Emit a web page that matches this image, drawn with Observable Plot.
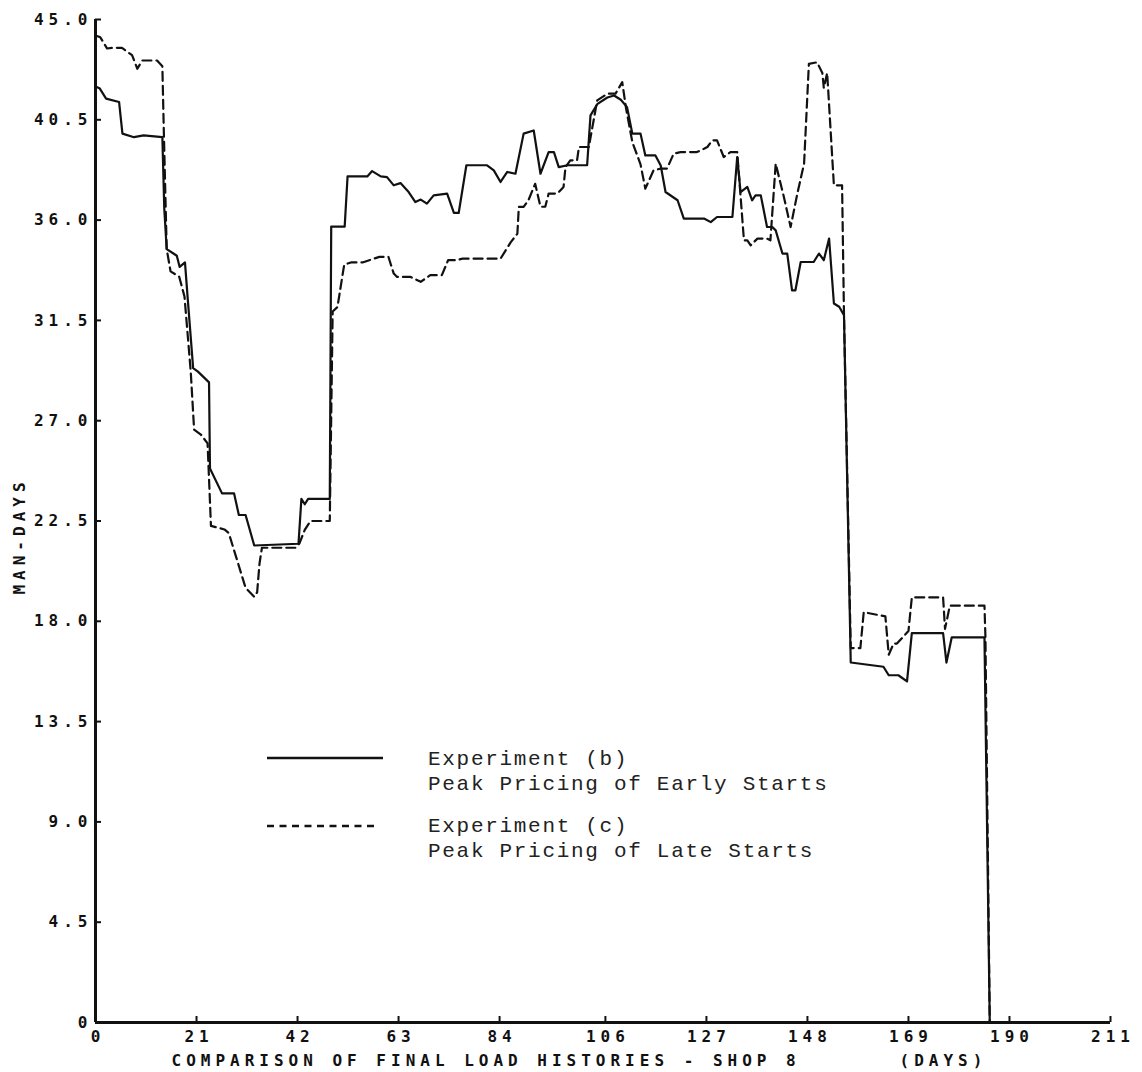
<!DOCTYPE html>
<html><head><meta charset="utf-8">
<script src="https://cdn.jsdelivr.net/npm/d3@7"></script>
<script src="https://cdn.jsdelivr.net/npm/@observablehq/plot@0.6"></script>
<style>
body{margin:0;background:#fff;}
#wrap{position:relative;width:1142px;height:1072px;overflow:hidden;}
.lg{position:absolute;font-family:"Liberation Mono",monospace;font-size:21px;letter-spacing:1.7px;color:#222;white-space:pre;line-height:20px;}
.sw{position:absolute;}
#ylab{position:absolute;left:20px;top:536px;transform:translate(-50%,-50%) rotate(-90deg);font-family:"DejaVu Sans Mono",monospace;font-weight:bold;font-size:16px;letter-spacing:5px;color:#111;white-space:pre;line-height:16px;}
</style></head><body><div id="wrap"></div>
<script>
// Experiment (b) – solid
const daysB = [
  0, 0.9, 2.2, 4.9, 5.6, 8.0, 10.0, 13.9, 14.3, 14.8,
  16.2, 16.9, 17.5, 18.6, 19.2, 20.3, 21.3, 23.6, 23.8, 26.3,
  28.8, 29.8, 31.2, 33.0, 42.2, 42.8, 43.5, 44.2, 48.7, 49.0,
  51.8, 52.4, 56.5, 57.5, 59.3, 60.6, 62.0, 63.4, 65.1, 66.5,
  67.6, 68.9, 70.3, 73.1, 74.5, 75.5, 77.1, 81.4, 82.8, 84.2,
  85.6, 87.3, 89.0, 91.1, 92.5, 94.2, 95.3, 96.3, 98.1, 102.2,
  102.9, 104.3, 106.4, 107.8, 109.2, 110.5, 111.6, 113.3, 114.3, 116.4,
  117.5, 118.5, 121.0, 122.3, 126.5, 127.9, 129.2, 132.4, 133.4, 134.1,
  135.5, 136.5, 137.2, 138.3, 139.6, 140.7, 141.4, 142.8, 143.8, 144.8,
  145.5, 146.6, 149.3, 150.4, 151.4, 152.5, 153.5, 154.6, 155.6, 157.0,
  163.8, 164.9, 166.9, 168.7, 169.7, 176.2, 176.9, 178.0, 184.8, 185.9
];
const loadB = [
  42.0, 41.9, 41.45, 41.3, 39.88, 39.72, 39.8, 39.72, 36.5, 34.7,
  34.5, 34.4, 33.9, 34.1, 32.4, 29.36, 29.2, 28.72, 24.86, 23.74,
  23.74, 22.77, 22.77, 21.4, 21.48, 23.49, 23.25, 23.49, 23.49, 35.71,
  35.71, 37.96, 37.96, 38.2, 37.96, 37.93, 37.56, 37.66, 37.26, 36.81,
  36.92, 36.74, 37.11, 37.19, 36.32, 36.32, 38.46, 38.46, 38.23, 37.71,
  38.16, 38.08, 39.88, 40.02, 38.08, 39.05, 39.05, 38.38, 38.46, 38.46,
  40.7, 41.2, 41.5, 41.59, 41.4, 41.07, 39.88, 39.88, 38.9, 38.9,
  38.45, 37.26, 36.89, 36.07, 36.07, 35.91, 36.14, 36.14, 38.83, 37.26,
  37.49, 36.89, 37.11, 37.11, 35.69, 35.69, 35.54, 34.5, 34.5, 32.85,
  32.85, 34.12, 34.12, 34.5, 34.2, 35.17, 32.26, 32.11, 31.73, 16.15,
  15.96, 15.58, 15.58, 15.3, 17.47, 17.47, 16.15, 17.28, 17.28, 0
];
// Experiment (c) – dashed
const daysC = [
  0, 1.0, 2.4, 3.4, 5.5, 7.6, 8.7, 9.7, 12.8, 13.9,
  14.2, 14.8, 15.6, 17.4, 18.5, 19.8, 20.5, 21.9, 23.3, 24.0,
  26.8, 27.7, 29.5, 31.2, 33.0, 33.6, 34.1, 34.6, 41.6, 42.4,
  43.5, 44.7, 48.7, 49.3, 50.3, 51.7, 53.1, 55.5, 59.0, 60.9,
  62.0, 62.7, 65.5, 67.6, 69.6, 72.0, 73.3, 75.0, 76.3, 84.2,
  86.3, 87.7, 88.0, 89.0, 90.0, 91.4, 92.5, 93.5, 94.2, 96.0,
  97.3, 97.7, 98.7, 100.1, 100.5, 102.6, 102.8, 104.3, 106.4, 108.1,
  109.5, 110.3, 111.6, 113.3, 114.3, 116.0, 117.5, 118.8, 120.2, 121.6,
  125.0, 126.5, 127.2, 128.2, 129.2, 130.6, 132.0, 133.4, 134.8, 135.5,
  136.2, 137.6, 139.6, 140.3, 141.4, 143.1, 144.5, 145.9, 147.3, 148.3,
  150.0, 151.1, 151.4, 152.1, 153.5, 155.2, 155.6, 157.0, 159.0, 159.7,
  164.2, 164.9, 165.9, 166.6, 169.0, 169.7, 176.2, 176.6, 177.6, 184.8,
  185.0, 185.9
];
const loadC = [
  44.28, 44.2, 43.7, 43.73, 43.73, 43.4, 42.79, 43.16, 43.16, 42.9,
  40.0, 34.7, 33.7, 33.46, 32.57, 29.2, 26.6, 26.38, 25.98, 22.28,
  22.12, 21.96, 20.7, 19.5, 19.1, 19.3, 20.6, 21.3, 21.3, 21.5,
  22.1, 22.5, 22.5, 31.9, 32.1, 34.0, 34.1, 34.1, 34.35, 34.35,
  33.6, 33.45, 33.45, 33.23, 33.53, 33.53, 34.2, 34.2, 34.27, 34.27,
  35.0, 35.39, 36.59, 36.59, 36.89, 37.63, 36.6, 36.6, 37.19, 37.19,
  37.49, 38.38, 38.68, 38.68, 39.28, 39.28, 39.58, 41.37, 41.67, 41.67,
  42.19, 41.0, 39.5, 38.5, 37.41, 38.23, 38.31, 38.31, 38.98, 39.05,
  39.05, 39.2, 39.28, 39.58, 39.58, 38.83, 39.05, 39.05, 35.09, 35.09,
  34.87, 35.17, 35.17, 35.09, 38.53, 37.04, 35.69, 37.19, 38.53, 43.01,
  43.08, 42.6, 41.93, 42.6, 37.56, 37.56, 31.7, 16.8, 16.8, 18.41,
  18.22, 16.5, 17.0, 17.0, 17.56, 19.07, 19.07, 17.66, 18.7, 18.7,
  17.3, 0
];
const xTicks = [0, 21, 42, 63, 84, 106, 127, 148, 169, 190, 211];
const yTicks = [0, 4.5, 9, 13.5, 18, 22.5, 27, 31.5, 36, 40.5, 45];
const seriesNames = ["Experiment (b)", "Experiment (c)"];
const seriesSubs = ["Peak Pricing of Early Starts", "Peak Pricing of Late Starts"];
const yLabel = "MAN-DAYS";
const xCaption = "COMPARISON OF FINAL LOAD HISTORIES - SHOP 8";
const xUnit = "(DAYS)";

const rowsB = daysB.map((d, i) => ({day: d, load: loadB[i]}));
const rowsC = daysC.map((d, i) => ({day: d, load: loadC[i]}));
const ink = "#111";

const chart = Plot.plot({
  width: 1142, height: 1072,
  marginTop: 19, marginLeft: 95, marginRight: 32, marginBottom: 50,
  x: {domain: [0, 211]},
  y: {domain: [0, 45]},
  style: {fontFamily: "'DejaVu Sans Mono', monospace", fontSize: "16px", fontWeight: "bold", letterSpacing: "5px", background: "#fff", color: ink},
  marks: [
    Plot.axisY(yTicks, {tickSize: 6, dx: 6, fill: "none", stroke: ink, strokeWidth: 2, label: null}),
    Plot.axisY(yTicks, {tickSize: 0, tickPadding: 3, tickFormat: d => d === 0 ? "0" : d.toFixed(1), fill: ink, label: null}),
    Plot.axisX(xTicks, {tickSize: 6, dy: -6, fill: "none", stroke: ink, strokeWidth: 2, label: null}),
    Plot.axisX(xTicks, {tickSize: 0, tickPadding: 8, dx: 2.5, tickFormat: d => String(d), fill: ink, label: null}),
    Plot.ruleX([0], {stroke: ink, strokeWidth: 3}),
    Plot.ruleY([0], {stroke: ink, strokeWidth: 3}),
    Plot.line(rowsC, {x: "day", y: "load", stroke: ink, strokeWidth: 2.2, strokeDasharray: "9,5"}),
    Plot.line(rowsB, {x: "day", y: "load", stroke: ink, strokeWidth: 2.2}),
    Plot.text([xCaption], {frameAnchor: "bottom-left", textAnchor: "start", lineAnchor: "middle", dx: 76, dy: 38, fill: ink}),
    Plot.text([xUnit], {frameAnchor: "bottom-left", textAnchor: "start", lineAnchor: "middle", dx: 804, dy: 38, fill: ink})
  ]
});
const wrap = document.getElementById("wrap");
wrap.appendChild(chart);

// rotated y-axis title
const yl = document.createElement("div");
yl.id = "ylab"; yl.textContent = yLabel;
wrap.appendChild(yl);

// legend overlay
function swatch(top, dash) {
  const ns = "http://www.w3.org/2000/svg";
  const s = document.createElementNS(ns, "svg");
  s.setAttribute("class", "sw");
  s.setAttribute("width", 116); s.setAttribute("height", 6);
  s.style.left = "267px"; s.style.top = (top - 3) + "px";
  const l = document.createElementNS(ns, "line");
  l.setAttribute("x1", 0); l.setAttribute("x2", dash ? 110 : 116);
  l.setAttribute("y1", 3); l.setAttribute("y2", 3);
  l.setAttribute("stroke", ink); l.setAttribute("stroke-width", dash ? 2.4 : 2.6);
  if (dash) l.setAttribute("stroke-dasharray", "7,5.5");
  s.appendChild(l);
  wrap.appendChild(s);
}
function label(txt, center) {
  const d = document.createElement("div");
  d.className = "lg"; d.textContent = txt;
  d.style.left = "428px"; d.style.top = (center - 10) + "px";
  wrap.appendChild(d);
}
swatch(758, false); swatch(826, true);
label(seriesNames[0], 760); label(seriesSubs[0], 785);
label(seriesNames[1], 827); label(seriesSubs[1], 852);
</script></body></html>
